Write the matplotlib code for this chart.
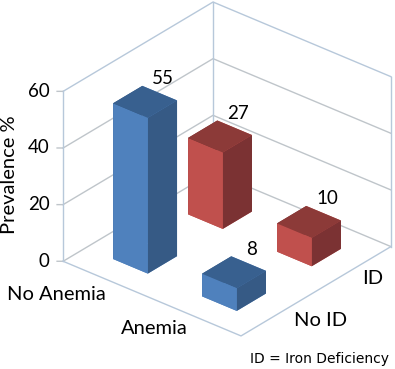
import matplotlib
matplotlib.use("Agg")
import matplotlib.pyplot as plt

plt.rcParams['font.family'] = ['Lato', 'DejaVu Sans']

# datos
anemia_labels = ["No Anemia", "Anemia"]
id_labels = ["No ID", "ID"]
prev_no_id = [55, 8]
prev_id = [27, 10]
z_ticks = [0, 20, 40, 60]

# colores: inferior, arriba, frente, atras, izquierda, derecha
azul = ["#4f81bd", "#38608f", "#4f81bd", "#4f81bd", "#365a85", "#365a85"]
rojo = ["#c0504d", "#8c3a38", "#c0504d", "#c0504d", "#7b3233", "#7b3233"]
gris = "#bfc5ca"
borde = "#b7c8da"
ancho = 0.39

W, H = 395, 369
fig = plt.figure(figsize=(W / 100, H / 100), dpi=100)
S = 372
ax = fig.add_axes([36 / W, 9 / H, S / W, S / H], projection="3d", proj_type="ortho")
ax.view_init(elev=30, azim=-50)
ax.set_box_aspect((232, 233, 196))
ax.set_xlim(0, 2)
ax.set_ylim(0, 2)
ax.set_zlim(0, 60)
ax.set_axis_off()
ax.computed_zorder = False

# paredes y piso
for z in z_ticks:
    c = borde if z == 60 else gris
    ax.plot([0, 0, 2], [0, 2, 2], [z, z, z], color=c, lw=1.0, zorder=1)
    ax.plot([-0.04, 0], [-0.033, 0], [z, z], color=gris, lw=1.0, zorder=1)
    ax.text(-0.09, -0.075, z, str(z), ha="right", va="center", fontsize=13.5, color="black")
for x, y in [(0, 0), (0, 2), (2, 2)]:
    ax.plot([x, x], [y, y], [0, 60], color=borde, lw=1.0, zorder=1)
ax.plot([0, 2, 2], [0, 0, 2], [0, 0, 0], color=borde, lw=1.0, zorder=1)

# barras
orden = 2
for j, (vals, cols) in reversed(list(enumerate([(prev_no_id, azul), (prev_id, rojo)]))):
    for i, v in enumerate(vals):
        xc = i + 0.5
        yc = j + 0.5
        ax.bar3d(xc - ancho / 2, yc - ancho / 2, 0, ancho, ancho, v, color=cols,
                 shade=False, linewidth=0, zorder=orden)
        ax.text(xc, yc + 0.24, v + 4.4, str(v), ha="center", va="center",
                fontsize=13.5, color="black", zorder=10)
        orden += 1


def etiqueta(px, py, s, **kw):
    fig.text(px / W, 1 - py / H, s, ha="center", va="center", color="black", **kw)


etiqueta(56, 295, anemia_labels[0], fontsize=14.5)
etiqueta(154, 328, anemia_labels[1], fontsize=14.5)
etiqueta(321, 321, id_labels[0], fontsize=14.5)
etiqueta(373, 279, id_labels[1], fontsize=14.5)
etiqueta(10, 175, "Prevalence %", fontsize=14.5, rotation=90)
etiqueta(320, 359, "ID = Iron Deficiency", fontsize=10, family="DejaVu Sans")

fig.savefig("out.png", dpi=100)
